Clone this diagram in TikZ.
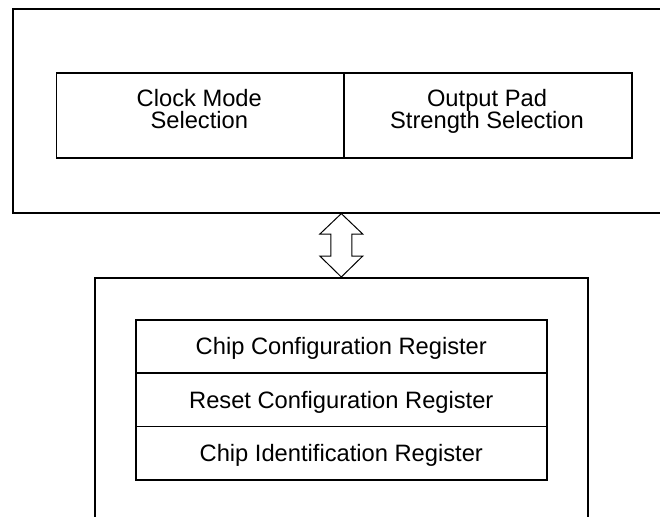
\documentclass[tikz,border=0pt]{standalone}
\usepackage{fontspec}
\setmainfont{Liberation Sans}
\usetikzlibrary{calc}
\begin{document}
\begin{tikzpicture}[x=1pt,y=-1pt,
  box/.style={draw=black,line width=1.6pt,rectangle,inner sep=0pt,anchor=north west},
  lbl/.style={inner sep=0pt,anchor=base,font=\fontsize{23.7}{21.7}\selectfont},
  arrowline/.style={draw=black,line width=1pt,line join=miter}]
\useasboundingbox (0,0) rectangle (660,516);
\clip (0,0) rectangle (660,516);
% top container (right side runs off the page)
\node[box,minimum width=700pt,minimum height=204pt] (top) at (12,8) {};
\node[box,minimum width=287.4pt,minimum height=85pt] (clk) at (55.6,72) {};
\node[box,minimum width=288pt,minimum height=85pt] (pad) at (343,72) {};
\node[lbl] (clk1) at (199.3,106.7) {Clock Mode};
\node[lbl] (clk2) at (199.3,128.4) {Selection};
\node[lbl] (pad1) at (487,106.7) {Output Pad};
\node[lbl] (pad2) at (487,128.4) {Strength Selection};
% bottom container (runs off the bottom)
\node[box,minimum width=493pt,minimum height=280pt] (bot) at (94,277) {};
\node[box,minimum width=411pt,minimum height=53.3pt] (r1) at (135,319) {};
\node[box,minimum width=411pt,minimum height=53.4pt] (r2) at (135,372.3) {};
\node[box,minimum width=411pt,minimum height=53.3pt] (r3) at (135,425.7) {};
\node[lbl] (t1) at ($(r1.center)+(0,8.5)$) {Chip Configuration Register};
\node[lbl] (t2) at ($(r2.center)+(0,8.5)$) {Reset Configuration Register};
\node[lbl] (t3) at ($(r3.center)+(0,8.5)$) {Chip Identification Register};
% double arrow connector
\coordinate (ta) at (bot.north |- top.south);
\coordinate (tb) at (bot.north);
\draw[arrowline] (ta) -- ($(ta)+(21.5,20.5)$) -- ($(ta)+(10.5,20.5)$)
  -- ($(tb)+(10.5,-21)$) -- ($(tb)+(21.5,-21)$) -- (tb)
  -- ($(tb)+(-21.5,-21)$) -- ($(tb)+(-10.5,-21)$)
  -- ($(ta)+(-10.5,20.5)$) -- ($(ta)+(-21.5,20.5)$) -- cycle;
\end{tikzpicture}
\end{document}
